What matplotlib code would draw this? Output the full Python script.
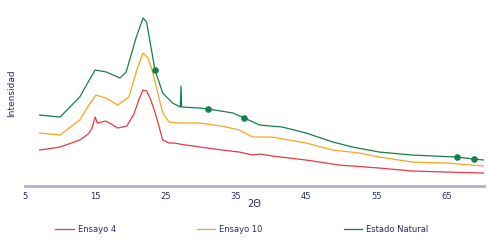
import matplotlib.pyplot as plt

# 2-theta positions and intensities (arbitrary units)
x_e4 = [7.1, 10, 12.8, 14.0, 14.5, 15.0, 15.3, 16.5, 17.5, 18.2, 19.5, 20.5, 21.3, 21.8, 22.3, 22.8, 23.5, 24.6, 25.5, 26.3, 27, 29.9, 33, 35.5, 37.4, 38.4, 40.2, 45, 49.7, 55.4, 60.1, 65, 70.3]
y_e4 = [36, 39, 46, 52, 57, 69, 63, 65, 61, 58, 60, 72, 88, 96, 95, 88, 74, 46, 43, 43, 42, 39, 36, 34, 31, 32, 30, 26, 21, 18, 15, 14, 13]

x_e10 = [7.1, 10, 12.8, 14.0, 15.1, 16.5, 17.5, 18.2, 19.8, 21.0, 21.8, 22.5, 23.2, 24.6, 25.5, 27, 29.9, 33, 35.5, 37.4, 40.2, 45, 48.8, 52.6, 55.4, 60.1, 64.9, 70.3]
y_e10 = [53, 51, 66, 80, 91, 88, 84, 81, 89, 118, 133, 128, 113, 73, 64, 63, 63, 60, 56, 49, 49, 43, 36, 33, 29, 24, 23, 20]

x_nat = [7.1, 10, 12.8, 14.0, 15, 16.6, 18.5, 19.4, 20.8, 21.8, 22.3, 22.9, 23.5, 24.6, 26, 27.1, 27.2, 27.3, 29.9, 31.1, 34.6, 36.2, 38.4, 41.6, 45, 48.8, 51.6, 55.4, 60.1, 66.4, 68.9, 70.3]
y_nat = [71, 69, 89, 104, 116, 114, 108, 114, 148, 168, 164, 140, 116, 93, 83, 79, 100, 79, 78, 77, 73, 68, 61, 59, 53, 44, 39, 34, 31, 29, 27, 26]

x_dots = [23.5, 31.1, 36.2, 66.4, 68.9]
y_dots = [116, 77, 68, 29, 27]

red = "#e8393f"
orange = "#f7a51c"
green = "#17804a"
navy = "#2b2b6b"

fig = plt.figure(figsize=(4.88, 2.41), dpi=100)
ax = fig.add_axes([0.051, 0.228, 0.941, 0.772])

ax.plot(x_e4, y_e4, color=red, lw=0.9, label="Ensayo 4")
ax.plot(x_e10, y_e10, color=orange, lw=0.9, label="Ensayo 10")
ax.plot(x_nat, y_nat, color=green, lw=0.9, label="Estado Natural")
ax.scatter(x_dots, y_dots, color=green, s=14, zorder=3)

ax.set_xlim(5, 70.3)
ax.set_ylim(0, 186)
ax.set_xticks([5, 15, 25, 35, 45, 55, 65])
ax.set_yticks([])
for s in ["top", "right", "left"]:
    ax.spines[s].set_visible(False)
ax.spines["bottom"].set_color("#b0b0d4")
ax.spines["bottom"].set_linewidth(2)
ax.tick_params(axis="x", length=0, labelsize=6, labelcolor=navy, pad=4)

ax.set_xlabel("2Θ", fontsize=7, color=navy, labelpad=-1)
ax.set_ylabel("Intensidad", fontsize=6.5, color=navy, labelpad=6)

fig.legend(loc="lower left", bbox_to_anchor=(0.1, 0.0), ncol=3, frameon=False,
           fontsize=6, labelcolor=navy, handlelength=2.2, handletextpad=0.5,
           columnspacing=9.7, borderaxespad=0.4)

plt.savefig("out.png", dpi=100)
